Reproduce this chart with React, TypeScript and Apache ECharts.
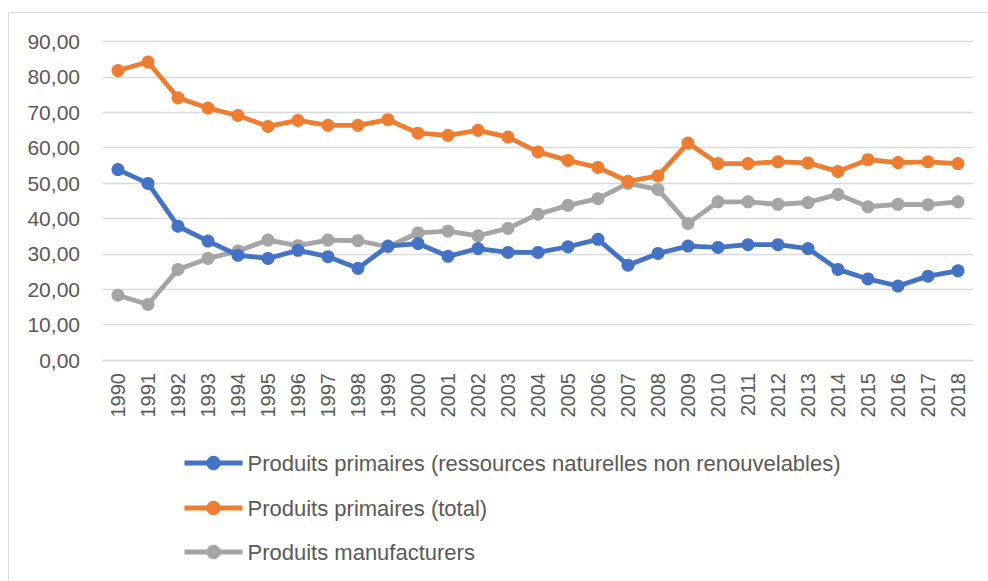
import React, { useEffect, useRef } from "react";
import * as echarts from "echarts";

const years = [
  "1990", "1991", "1992", "1993", "1994", "1995", "1996", "1997", "1998", "1999",
  "2000", "2001", "2002", "2003", "2004", "2005", "2006", "2007", "2008", "2009",
  "2010", "2011", "2012", "2013", "2014", "2015", "2016", "2017", "2018",
];

const nonRenewable = [
  53.8, 49.9, 37.8, 33.6, 29.6, 28.7, 31.0, 29.2, 25.9, 32.2,
  32.9, 29.3, 31.5, 30.4, 30.4, 32.0, 34.1, 26.8, 30.1, 32.2,
  31.8, 32.6, 32.6, 31.5, 25.6, 22.9, 20.9, 23.7, 25.2,
];

const primaryTotal = [
  81.8, 84.2, 74.1, 71.2, 69.1, 66.0, 67.7, 66.3, 66.3, 67.9,
  64.1, 63.5, 64.9, 63.0, 58.8, 56.4, 54.4, 50.5, 52.0, 61.3,
  55.5, 55.5, 56.0, 55.7, 53.3, 56.6, 55.8, 56.0, 55.5,
];

const manufactured = [
  18.3, 15.7, 25.6, 28.7, 30.8, 33.9, 32.3, 33.9, 33.7, 32.0,
  35.9, 36.4, 35.1, 37.2, 41.2, 43.7, 45.6, 49.9, 48.2, 38.6,
  44.7, 44.7, 44.0, 44.5, 46.8, 43.3, 44.0, 43.9, 44.7,
];

const seriesNames = [
  "Produits primaires (ressources naturelles non renouvelables)",
  "Produits primaires (total)",
  "Produits manufacturers",
];

const colors = ["#4472C4", "#ED7D31", "#A5A5A5"];

const FONT = "'Liberation Sans', Arial, sans-serif";

const legendTops = [452, 497, 541];

export default function App() {
  const ref = useRef<HTMLDivElement>(null);

  useEffect(() => {
    if (!ref.current) return;
    const chart = echarts.init(ref.current, undefined, { renderer: "svg" });
    const data = [nonRenewable, primaryTotal, manufactured];
    chart.setOption({
      animation: false,
      backgroundColor: "#ffffff",
      color: colors,
      textStyle: { fontFamily: FONT },
      graphic: [
        {
          type: "rect",
          shape: { x: 8.5, y: 12.5, width: 1000, height: 600 },
          style: { fill: "none", stroke: "#D9D9D9", lineWidth: 1 },
          silent: true,
        },
      ],
      grid: { left: 103, right: 15, top: 41.5, bottom: 221, containLabel: false },
      legend: seriesNames.map((name, i) => ({
        orient: "horizontal",
        left: 182,
        top: legendTops[i],
        padding: 0,
        itemWidth: 58,
        itemHeight: 18,
        lineStyle: { width: 5 },
        textStyle: { fontSize: 22, color: "#595959", fontFamily: FONT },
        data: [name],
      })),
      xAxis: {
        type: "category",
        data: years,
        boundaryGap: true,
        axisLine: { lineStyle: { color: "#D9D9D9", width: 1.3 } },
        axisTick: { show: false },
        axisLabel: {
          rotate: 90,
          fontSize: 20,
          color: "#595959",
          margin: 13,
          interval: 0,
          fontFamily: FONT,
        },
      },
      yAxis: {
        type: "value",
        min: 0,
        max: 90,
        interval: 10,
        axisLine: { show: false },
        axisTick: { show: false },
        splitLine: { lineStyle: { color: "#D9D9D9", width: 1.3 } },
        axisLabel: {
          fontSize: 21,
          color: "#595959",
          margin: 23,
          fontFamily: FONT,
          formatter: (v: number) => v.toFixed(2).replace(".", ","),
        },
      },
      series: seriesNames.map((name, i) => ({
        name,
        type: "line",
        data: data[i],
        symbol: "circle",
        symbolSize: 13,
        showSymbol: true,
        lineStyle: { width: 4.8, color: colors[i] },
        itemStyle: { color: colors[i] },
        z: 3 - i,
      })),
    });
    return () => chart.dispose();
  }, []);

  return (
    <div
      ref={ref}
      style={{ position: "absolute", left: 0, top: 0, width: 988, height: 581 }}
    />
  );
}
